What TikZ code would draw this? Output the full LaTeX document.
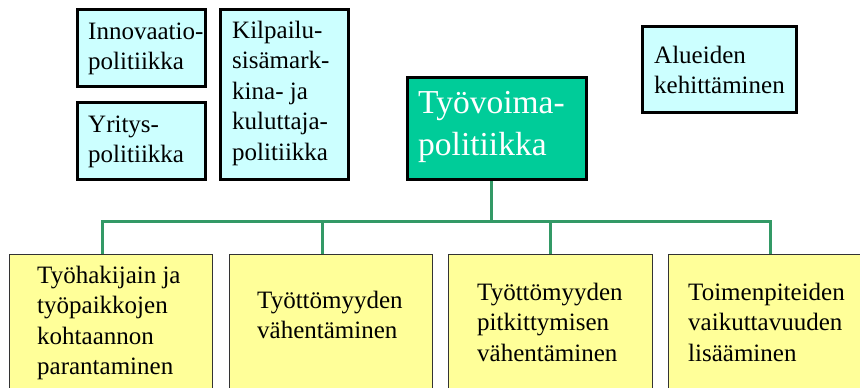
\documentclass[tikz,border=0pt]{standalone}
\usepackage{fontspec}
\setmainfont{Liberation Serif}
\newcommand\mylines[1]{\vtop{\halign{##\hfil\cr#1\crcr}}}
\definecolor{cyanbox}{HTML}{CCFFFF}
\definecolor{yellowbox}{HTML}{FFFF99}
\definecolor{greenbox}{HTML}{00CC99}
\definecolor{connc}{HTML}{339966}
\tikzset{
  topbox/.style={draw=black, line width=3pt, fill=cyanbox},
  mainbox/.style={draw=black, line width=3pt, fill=greenbox},
  botbox/.style={draw=black!80, line width=1pt, fill=yellowbox},
  smalltxt/.style={anchor=base west, inner sep=0pt, font=\fontsize{25}{30.5}\selectfont},
  bigtxt/.style={anchor=base west, inner sep=0pt, text=white, font=\fontsize{33.5}{42}\selectfont},
  conn/.style={draw=connc, line width=3pt}
}
\begin{document}
\begin{tikzpicture}[x=1pt,y=-1pt]
\useasboundingbox (0,0) rectangle (860,388);
% top boxes
\draw[topbox] (77,9) rectangle (205,86);
\node[smalltxt] (innot) at (88,39) {\mylines{Innovaatio-\cr politiikka}};
\draw[topbox] (77,102) rectangle (205,179);
\node[smalltxt] (yrit) at (88,132) {\mylines{Yritys-\cr politiikka}};
\draw[topbox] (220,9) rectangle (348,179);
\node[smalltxt] (kilpt) at (232,38) {\mylines{Kilpailu-\cr sisämark-\cr kina- ja\cr kuluttaja-\cr politiikka}};
\draw[topbox] (642,26) rectangle (796,112);
\node[smalltxt] (aluet) at (654,63) {\mylines{Alueiden\cr kehittäminen}};
% main box
\node[mainbox, anchor=north west, minimum width=179pt, minimum height=102pt, inner sep=0pt] (tyo) at (406,76) {};
\node[bigtxt] (tyot) at (418,113) {\mylines{Työvoima-\cr politiikka}};
% bottom boxes
\node[botbox, anchor=north west, minimum width=203pt, minimum height=160pt, inner sep=0pt] (b1) at (9,254) {};
\node[botbox, anchor=north west, minimum width=203pt, minimum height=160pt, inner sep=0pt] (b2) at (229,254) {};
\node[botbox, anchor=north west, minimum width=204pt, minimum height=160pt, inner sep=0pt] (b3) at (448,254) {};
\node[botbox, anchor=north west, minimum width=204pt, minimum height=160pt, inner sep=0pt] (b4) at (668,254) {};
\node[smalltxt] (b1t) at (37,283) {\mylines{Työhakijain ja\cr työpaikkojen\cr kohtaannon\cr parantaminen}};
\node[smalltxt] (b2t) at (257,308) {\mylines{Työttömyyden\cr vähentäminen}};
\node[smalltxt] (b3t) at (477,300) {\mylines{Työttömyyden\cr pitkittymisen\cr vähentäminen}};
\node[smalltxt] (b4t) at (688,300) {\mylines{Toimenpiteiden\cr vaikuttavuuden\cr lisääminen}};
% connectors
\coordinate (bus) at (491,221);
\coordinate (t1) at (102,254);
\coordinate (t2) at (322,254);
\draw[conn] (tyo.south -| bus) -- (bus);
\draw[conn] (t1) |- (bus) -| (b4.north);
\draw[conn] (t2) -- (t2 |- bus);
\draw[conn] (b3.north) -- (b3.north |- bus);
\end{tikzpicture}
\end{document}
